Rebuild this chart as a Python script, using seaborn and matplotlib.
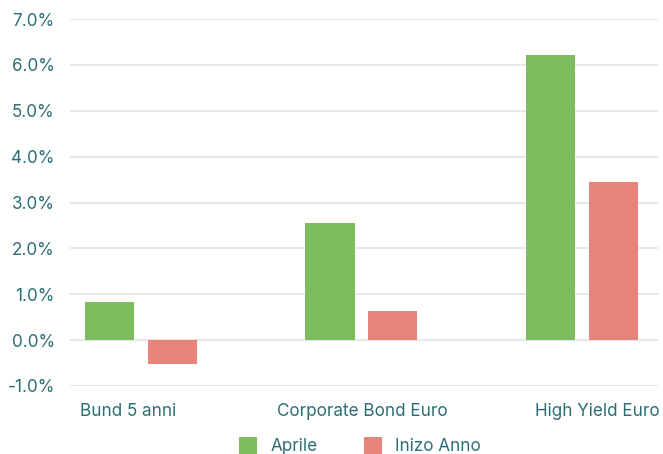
import matplotlib
matplotlib.use("Agg")
import matplotlib.pyplot as plt
import matplotlib.transforms as mtransforms
from matplotlib.ticker import FuncFormatter
from matplotlib.patches import Patch
import seaborn as sns
import pandas as pd

categories = ["Bund 5 anni", "Corporate Bond Euro", "High Yield Euro"]
series_names = ["Aprile", "Inizo Anno"]
aprile = [0.83, 2.55, 6.21]
inizio_anno = [-0.52, 0.63, 3.44]
y_ticks = [-1, 0, 1, 2, 3, 4, 5, 6, 7]

colors = ["#7dbd5e", "#e8837a"]
text_color = "#2c6e74"

df = pd.DataFrame({
    "cat": categories * 2,
    "serie": [series_names[0]] * 3 + [series_names[1]] * 3,
    "val": aprile + inizio_anno,
})

sns.set_theme(style="white")
plt.rcParams["font.family"] = ["Inter", "DejaVu Sans"]

fig = plt.figure(figsize=(6.63, 4.54), dpi=100)
ax = fig.add_axes([0.1056, 0.1498, 0.8864, 0.8082])

sns.barplot(data=df, x="cat", y="val", hue="serie", order=categories,
            hue_order=series_names, palette=colors, width=0.571, gap=0.22,
            saturation=1, ax=ax, legend=False, edgecolor="none", linewidth=0)

ax.set_ylim(-1, 7)
ax.set_xlim(-0.322, 2.344)
ax.set_yticks(y_ticks)
ax.yaxis.set_major_formatter(FuncFormatter(lambda v, p: f"{v:.1f}%"))
ax.grid(axis="y", color="#e3e3e6", linewidth=1.2)
ax.set_axisbelow(True)
for s in ax.spines.values():
    s.set_visible(False)
ax.tick_params(axis="both", length=0, labelsize=12.3, labelcolor=text_color)
ax.tick_params(axis="y", pad=11)
ax.tick_params(axis="x", pad=12)
ax.set_xlabel("")
ax.set_ylabel("")

offsets = [-13, 1, 15]
for lab, off in zip(ax.get_xticklabels(), offsets):
    lab.set_transform(lab.get_transform() +
                      mtransforms.ScaledTranslation(off / 100, 0, fig.dpi_scale_trans))

handles = [Patch(facecolor=c, edgecolor="none") for c in colors]
fig.legend(handles, series_names, loc="lower center", bbox_to_anchor=(0.543, -0.037),
           ncol=2, frameon=False, fontsize=12.3, labelcolor=text_color,
           handlelength=1.05, handleheight=1.1, handletextpad=0.8, columnspacing=2.7)

fig.savefig("out.png", dpi=100)
